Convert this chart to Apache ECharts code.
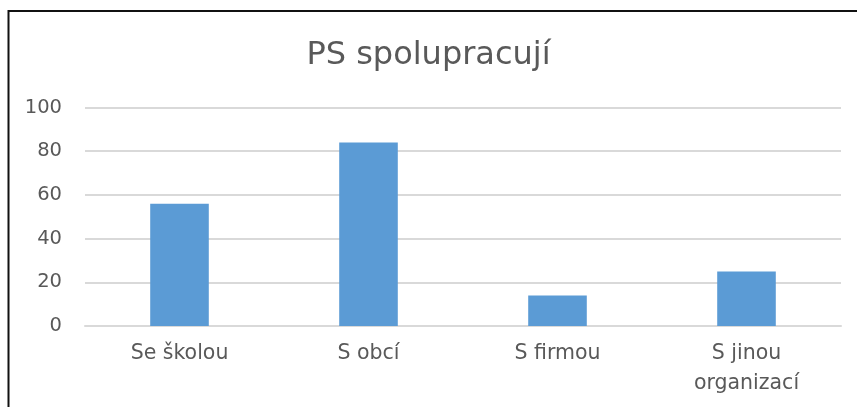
<!DOCTYPE html>
<html>
<head>
<meta charset="utf-8">
<script src="https://cdn.jsdelivr.net/npm/echarts@6/dist/echarts.min.js"></script>
<style>
  html, body { margin: 0; padding: 0; background: #fff; }
  #chart { width: 857px; height: 407px; }
</style>
</head>
<body>
<div id="chart"></div>
<script>
  // data
  const categories = ['Se školou', 'S obcí', 'S firmou', 'S jinou\norganizací']
  const values = [56, 84, 14, 25]
  const titleText = 'PS spolupracují'

  const chart = echarts.init(document.getElementById('chart'), null, { renderer: 'canvas' })
  const font = 'DejaVu Sans'
  const option = {
    animation: false,
    backgroundColor: '#fff',
    // frame of the chart area
    graphic: [{
      type: 'rect',
      shape: { x: 8.5, y: 11, width: 900, height: 450 },
      style: { fill: 'none', stroke: '#111', lineWidth: 2 },
      silent: true
    }],
    title: {
      text: titleText,
      left: 'center',
      top: 35,
      textStyle: { color: '#595959', fontSize: 32, fontWeight: 'normal', fontFamily: font }
    },
    grid: { left: 85, right: 16, top: 107.5, bottom: 81 },
    xAxis: {
      type: 'category',
      data: categories,
      axisLine: { lineStyle: { color: '#d9d9d9', width: 2 } },
      axisTick: { show: false },
      axisLabel: { color: '#595959', fontSize: 20.5, fontFamily: font, margin: 13, lineHeight: 30 }
    },
    yAxis: {
      type: 'value',
      min: 0,
      max: 100,
      interval: 20,
      axisLine: { show: false },
      axisTick: { show: false },
      splitLine: { lineStyle: { color: '#d9d9d9', width: 2 } },
      axisLabel: { color: '#595959', fontSize: 19.5, fontFamily: font, margin: 23 }
    },
    series: [{
      type: 'bar',
      data: values,
      barWidth: '31%',
      itemStyle: { color: '#5b9bd5' }
    }]
  }
  chart.setOption(option)
</script>
</body>
</html>
